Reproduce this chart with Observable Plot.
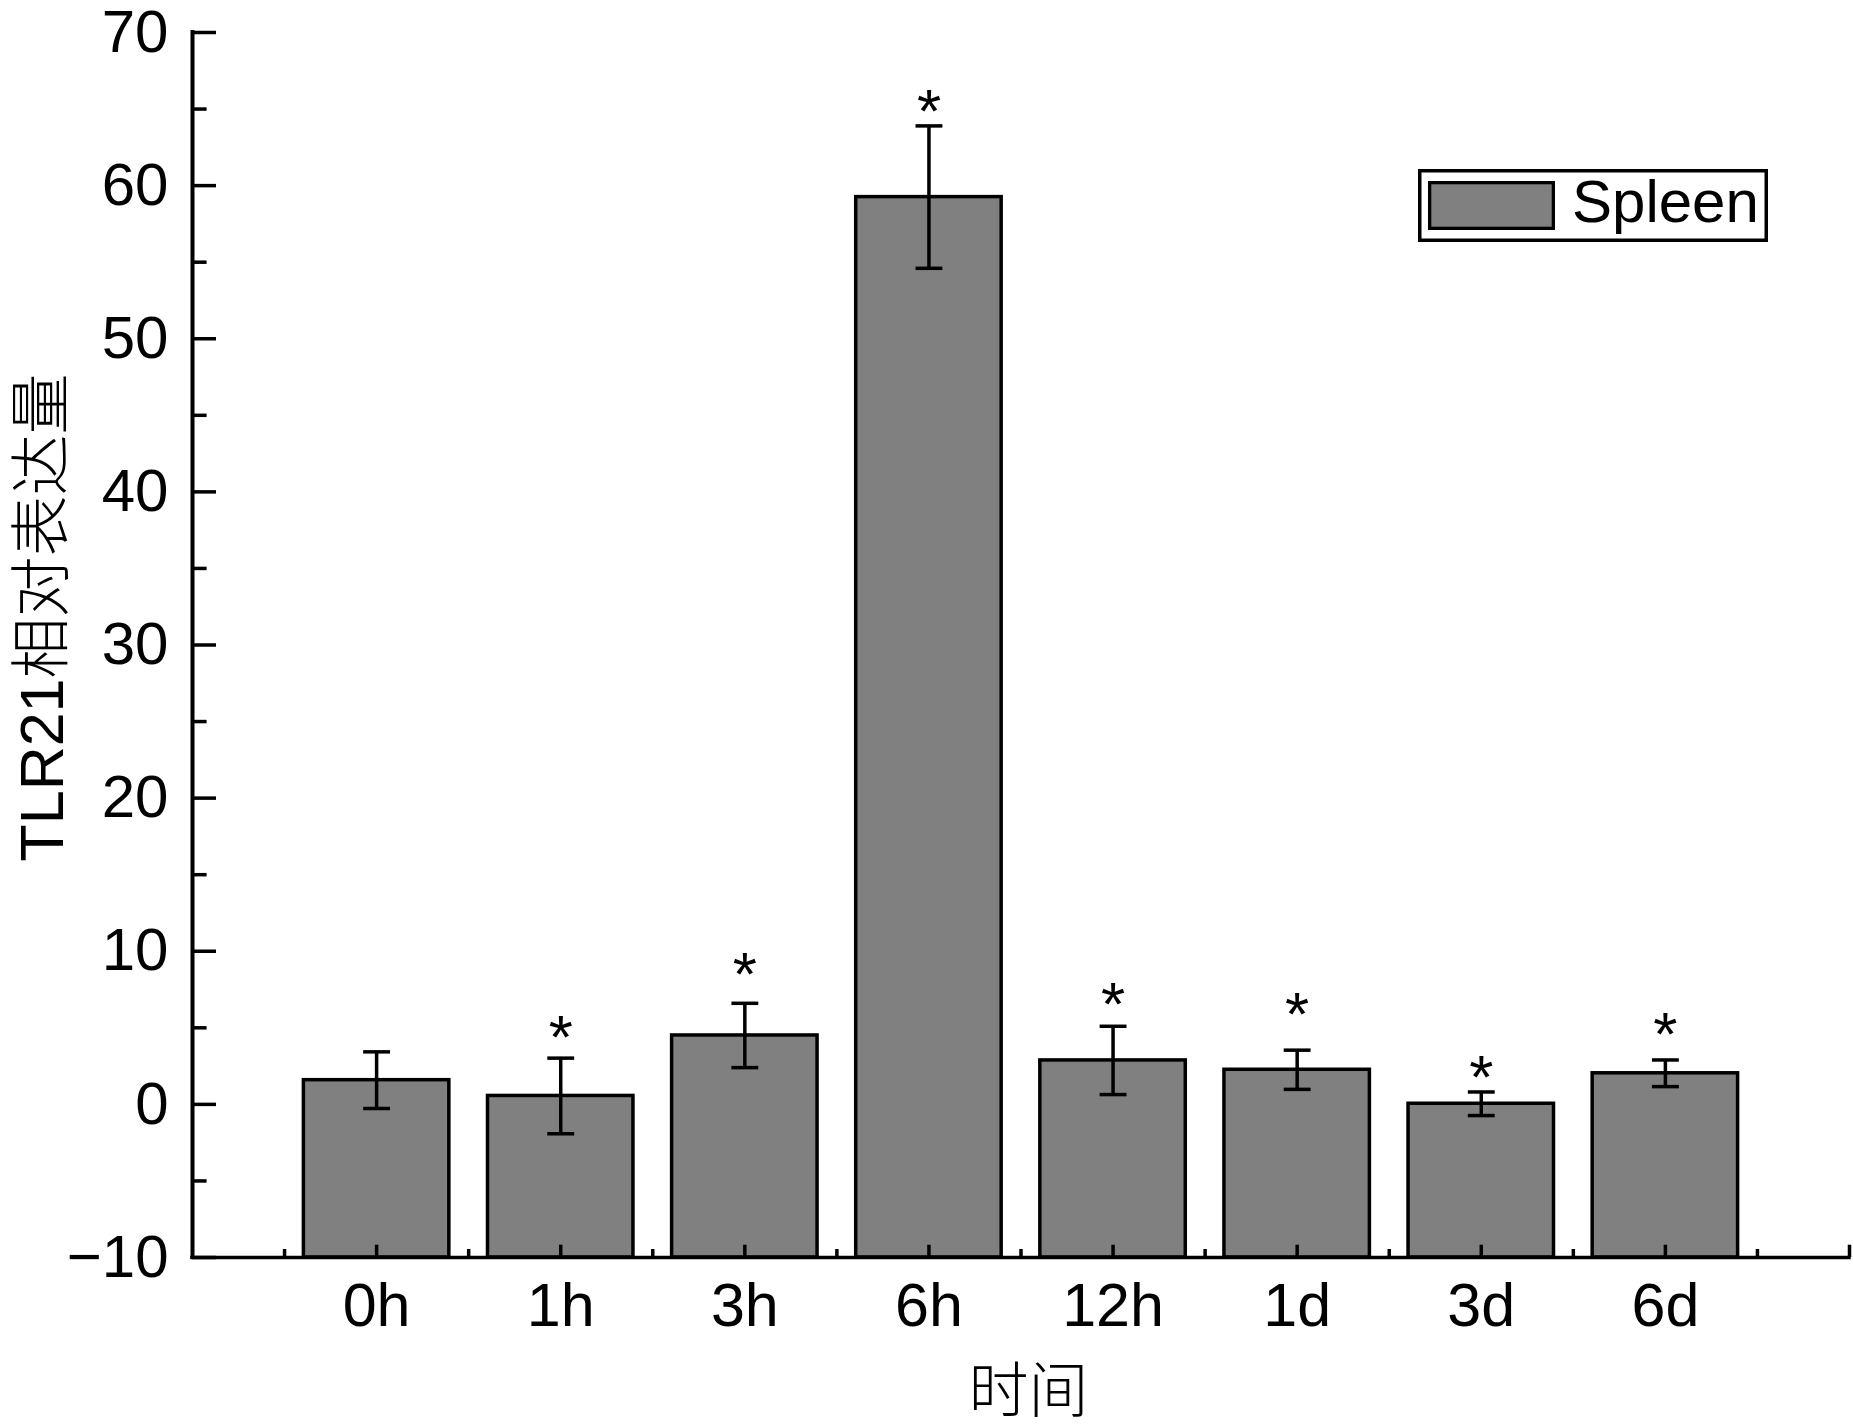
<!DOCTYPE html>
<html>
<head>
<meta charset="utf-8">
<script src="https://cdn.jsdelivr.net/npm/d3@7"></script>
<script src="https://cdn.jsdelivr.net/npm/@observablehq/plot@0.6"></script>
<style>
html, body { margin: 0; padding: 0; background: #fff; }
#chart { width: 1853px; height: 1425px; }
</style>
</head>
<body>
<div id="chart"></div>
<script>
// ---- data ----
const categories = ["0h", "1h", "3h", "6h", "12h", "1d", "3d", "6d"];
const means      = [1.58, 0.55, 4.5, 59.25, 2.87, 2.26, 0.04, 2.03];
const errors     = [1.85, 2.47, 2.1, 4.65, 2.23, 1.28, 0.77, 0.87];
const stars      = [null, 5.3, 9.4, 65.8, 7.5, 6.8, 2.7, 5.5];   // height of the "*" marks
const yMajorTicks = [-10, 0, 10, 20, 30, 40, 50, 60, 70];
const yMinorTicks = [-5, 5, 15, 25, 35, 45, 55, 65];
const yLabel = "TLR21相对表达量";
const xLabel = "时间";
const legendLabel = "Spleen";

const data = categories.map((c, i) => ({cat: c, pos: i + 1, mean: means[i], err: errors[i], star: stars[i]}));
const xMajor = d3.range(1, categories.length + 2);       // category ticks + right end
const xMinor = d3.range(0.5, categories.length + 1, 1);   // between categories

const W = 1853, H = 1425, mL = 192, mR = 4, mT = 32, mB = 168;
const fw = W - mL - mR, fh = H - mT - mB;
const barHalf = 0.395, capHalf = 0.073;
const font = "'Liberation Sans', Arial, 'Noto Sans CJK SC', sans-serif";
const sw = 3.5;

const plot = Plot.plot({
  width: W, height: H,
  marginLeft: mL, marginRight: mR, marginTop: mT, marginBottom: mB,
  style: {fontFamily: font, background: "white", color: "black"},
  x: {domain: [0, categories.length + 1]},
  y: {domain: [-10, 70]},
  marks: [
    Plot.rectY(data, {x1: d => d.pos - barHalf, x2: d => d.pos + barHalf, y1: -10, y2: "mean",
      fill: "#808080", stroke: "black", strokeWidth: sw}),
    Plot.ruleX(data, {x: "pos", y1: d => d.mean - d.err, y2: d => d.mean + d.err, stroke: "black", strokeWidth: sw}),
    Plot.link(data, {x1: d => d.pos - capHalf, x2: d => d.pos + capHalf,
      y1: d => d.mean + d.err, y2: d => d.mean + d.err, stroke: "black", strokeWidth: sw}),
    Plot.link(data, {x1: d => d.pos - capHalf, x2: d => d.pos + capHalf,
      y1: d => d.mean - d.err, y2: d => d.mean - d.err, stroke: "black", strokeWidth: sw}),
    Plot.text(data.filter(d => d.star != null), {x: "pos", y: "star", text: () => "*",
      fontSize: 62, lineAnchor: "bottom", dy: 35}),
    Plot.tickY(yMajorTicks, {y: d => d, insetRight: fw - 24, stroke: "black", strokeWidth: sw}),
    Plot.tickY(yMinorTicks, {y: d => d, insetRight: fw - 14.6, stroke: "black", strokeWidth: sw}),
    Plot.tickX(xMajor, {x: d => d, insetTop: fh - 12.3, stroke: "black", strokeWidth: sw}),
    Plot.tickX(xMinor, {x: d => d, insetTop: fh - 8, stroke: "black", strokeWidth: sw}),
    Plot.ruleX([0], {stroke: "black", strokeWidth: 4, strokeLinecap: "square"}),
    Plot.ruleY([-10], {stroke: "black", strokeWidth: sw, strokeLinecap: "square"}),
    Plot.axisY({ticks: yMajorTicks, tickSize: 0, tickPadding: 24, fontSize: 60, label: null}),
    Plot.axisX({ticks: d3.range(1, categories.length + 1), tickFormat: i => categories[i - 1],
      tickSize: 0, tickPadding: 25, fontSize: 61, label: null}),
    Plot.text([yLabel], {frameAnchor: "left", rotate: -90, dx: -130, dy: -27.5,
      textAnchor: "middle", lineAnchor: "bottom", fontSize: 61, fontWeight: 300}),
    Plot.text([xLabel], {frameAnchor: "bottom", dx: 7.5, dy: 154,
      textAnchor: "middle", lineAnchor: "bottom", fontSize: 60, fontWeight: 300})
  ]
});

// legend (inside the plot area, top right)
const svg = d3.select(plot);
const lg = svg.append("g").attr("class", "legend");
lg.append("rect").attr("x", 1419.75).attr("y", 170.75).attr("width", 346.5).attr("height", 69.5)
  .attr("fill", "white").attr("stroke", "black").attr("stroke-width", 3.5);
lg.append("rect").attr("x", 1429.65).attr("y", 182.65).attr("width", 123.7).attr("height", 45.7)
  .attr("fill", "#808080").attr("stroke", "black").attr("stroke-width", 3.3);
lg.append("text").attr("x", 1572).attr("y", 222).attr("font-size", 60)
  .attr("text-anchor", "start").attr("font-family", font).attr("fill", "black").text(legendLabel);

document.getElementById("chart").appendChild(plot);
</script>
</body>
</html>
